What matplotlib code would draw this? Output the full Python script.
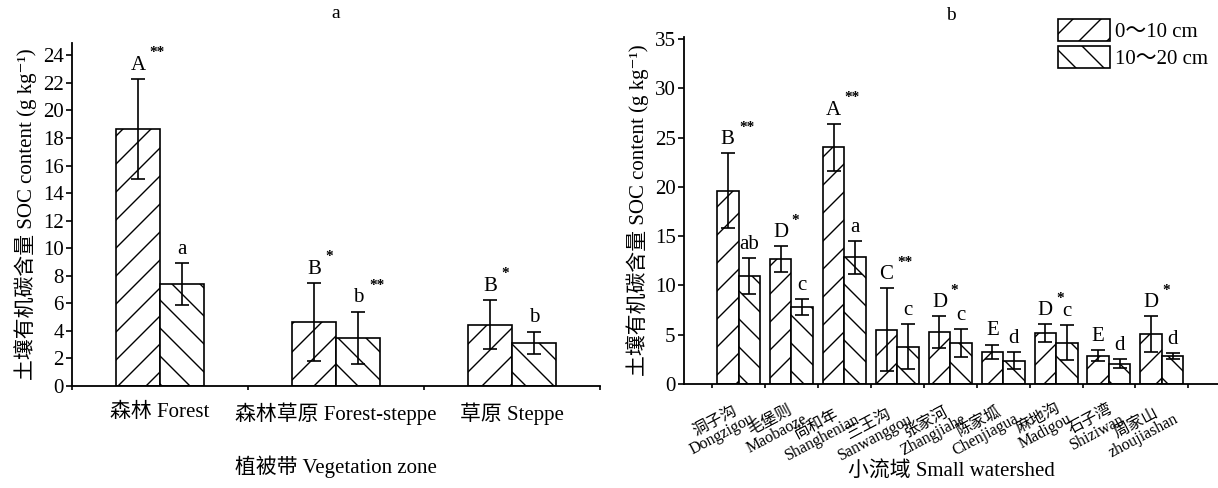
import matplotlib.pyplot as plt
import numpy as np

# values (g/kg), mean and +/- error
zones = ['森林 Forest', '森林草原 Forest-steppe', '草原 Steppe']
zone_top = [18.65, 4.64, 4.45]
zone_top_err = [3.65, 2.85, 1.8]
zone_sub = [7.4, 3.5, 3.12]
zone_sub_err = [1.55, 1.9, 0.83]
zone_top_lab = ['A', 'B', 'B']
zone_top_sig = ['**', '*', '*']
zone_sub_lab = ['a', 'b', 'b']
zone_sub_sig = ['', '**', '']

sheds = ['洞子沟\nDongzigou', '毛堡则\nMaobaoze', '尚和年\nShanghenian',
         '三王沟\nSanwanggou', '张家河\nZhangjiahe', '陈家坬\nChenjiagua',
         '麻地沟\nMadigou', '石子湾\nShiziwan', '周家山\nzhoujiashan']
shed_top = [19.6, 12.7, 24.0, 5.5, 5.25, 3.25, 5.15, 2.85, 5.05]
shed_top_err = [3.8, 1.3, 2.4, 4.2, 1.6, 0.75, 0.9, 0.55, 1.8]
shed_sub = [10.95, 7.8, 12.85, 3.8, 4.15, 2.35, 4.2, 2.05, 2.8]
shed_sub_err = [1.8, 0.85, 1.65, 2.3, 1.4, 0.85, 1.8, 0.45, 0.3]
shed_top_lab = ['B', 'D', 'A', 'C', 'D', 'E', 'D', 'E', 'D']
shed_top_sig = ['**', '*', '**', '**', '*', '', '*', '', '*']
shed_sub_lab = ['ab', 'c', 'a', 'c', 'c', 'd', 'c', 'd', 'd']
shed_sub_sig = [''] * 9

depths = ['0～10 cm', '10～20 cm']
ylab = '土壤有机碳含量 SOC content (g kg⁻¹)'

# the dpi sets the hatch spacing; K converts sizes given in "100 dpi points"
DPI = 84
K = 100 / DPI
FAM = ['Liberation Serif', 'Noto Sans CJK SC', 'DejaVu Sans']
plt.rcParams['font.family'] = FAM
plt.rcParams['hatch.linewidth'] = 1.0 * K
plt.rcParams['axes.linewidth'] = 1.3 * K

fig = plt.figure(figsize=(1218 / DPI, 488 / DPI), dpi=DPI)
ax1 = fig.add_axes([72 / 1218, 102 / 488, 528 / 1218, 343 / 488])
ax2 = fig.add_axes([684 / 1218, 104 / 488, 534 / 1218, 347 / 488])


def draw(ax, top, top_err, sub, sub_err, width, top_lab, top_sig, sub_lab, sub_sig):
    x = np.arange(len(top))
    kw = dict(width=width, color='white', edgecolor='black', linewidth=1.2 * K,
              error_kw=dict(elinewidth=1.2 * K, capthick=1.2 * K), capsize=5 * K,
              ecolor='black')
    ax.bar(x - width / 2, top, yerr=top_err, hatch='/', label=depths[0], **kw)
    ax.bar(x + width / 2, sub, yerr=sub_err, hatch='\\', label=depths[1], **kw)
    for xs, vals, errs, labs, sigs in [(x - width / 2, top, top_err, top_lab, top_sig),
                                       (x + width / 2, sub, sub_err, sub_lab, sub_sig)]:
        for xi, v, e, lab, sig in zip(xs, vals, errs, labs, sigs):
            ax.annotate(lab, (xi, v + e), xytext=(0, 3 * K), textcoords='offset points',
                        ha='center', va='bottom', fontsize=15 * K)
            if sig:
                ax.annotate(sig, (xi, v + e), xytext=(5 * K * len(lab) + 3 * K, 14 * K),
                            textcoords='offset points', ha='left', va='bottom',
                            fontsize=11 * K, fontweight='bold')
    for s in ['top', 'right']:
        ax.spines[s].set_visible(False)
    ax.tick_params(axis='y', direction='out', length=4 * K, width=1.2 * K,
                   labelsize=15 * K, pad=2 * K)
    ax.tick_params(axis='x', which='major', direction='out', length=3 * K,
                   width=1.2 * K, labelbottom=False)
    ax.tick_params(axis='x', which='minor', length=0)
    ax.set_xticks(np.arange(len(top) + 1) - 0.5)
    ax.set_ylabel(ylab, fontsize=15 * K, labelpad=4 * K)
    return x


x1 = draw(ax1, zone_top, zone_top_err, zone_sub, zone_sub_err, 0.25,
          zone_top_lab, zone_top_sig, zone_sub_lab, zone_sub_sig)
ax1.set_xlim(-0.5, 2.5)
ax1.set_ylim(0, 24.9)
ax1.set_yticks(np.arange(0, 25, 2))
ax1.set_xticks(x1, zones, minor=True)
ax1.tick_params(axis='x', which='minor', labelsize=15 * K, pad=12 * K)
ax1.set_xlabel('植被带 Vegetation zone', fontsize=15 * K, labelpad=22 * K)
ax1.set_title('a', fontsize=14 * K, pad=18 * K)

x2 = draw(ax2, shed_top, shed_top_err, shed_sub, shed_sub_err, 0.406,
          shed_top_lab, shed_top_sig, shed_sub_lab, shed_sub_sig)
ax2.set_xlim(-1.03, 9.06)
ax2.set_ylim(0, 35.2)
ax2.set_yticks(np.arange(0, 36, 5))
ax2.set_xticks(x2 + 0.08, sheds, minor=True)
for t in ax2.get_xticklabels(minor=True):
    t.set_rotation(28)
    t.set_ha('right')
    t.set_va('top')
    t.set_rotation_mode('anchor')
    t.set_multialignment('center')
    t.set_fontsize(11.5 * K)
    t.set_linespacing(0.9)
ax2.tick_params(axis='x', which='minor', pad=10 * K)
ax2.set_xlabel('小流域 Small watershed', fontsize=15 * K)
ax2.xaxis.set_label_coords(0.5, -0.225)
ax2.set_title('b', fontsize=14 * K, pad=12 * K)
ax2.legend(loc='upper right', bbox_to_anchor=(1.004, 0.99), bbox_transform=fig.transFigure,
           frameon=False, fontsize=15 * K, handlelength=2.5, handleheight=1.25,
           handletextpad=0.25, labelspacing=0.15, borderpad=0.2)

fig.savefig('out.png', dpi=DPI)
